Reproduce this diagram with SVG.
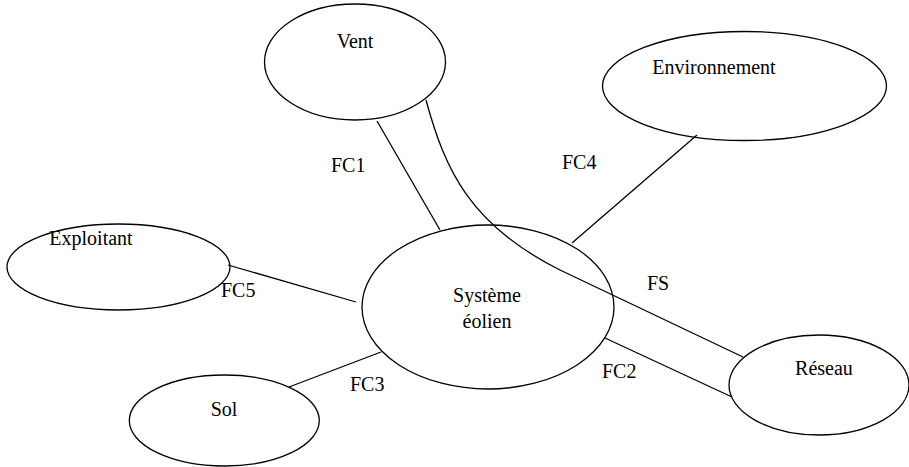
<svg xmlns="http://www.w3.org/2000/svg" width="909" height="467" viewBox="0 0 909 467" font-family="'Liberation Serif', 'Times New Roman', serif" font-size="20">
<style>
.n{fill:none;stroke:#000;stroke-width:1.3}
.c{fill:none;stroke:#000;stroke-width:1.3}
.t{font-family:'Liberation Serif','Times New Roman',serif;font-size:20px;fill:#000}
.m{text-anchor:middle}
</style>
<rect width="909" height="467" fill="#fff"/>
<g id="connectors">
<line class="c" x1="377" y1="121" x2="440" y2="230"/>
<path class="c" d="M426 100 C445 170 470 225 560 270 L743 357"/>
<line class="c" x1="572" y1="243" x2="697" y2="135"/>
<line class="c" x1="605" y1="338" x2="732" y2="397"/>
<line class="c" x1="228" y1="265" x2="356" y2="302"/>
<line class="c" x1="289" y1="387" x2="381" y2="352"/>
<text class="t" x="331" y="172">FC1</text>
<text class="t" x="562" y="169">FC4</text>
<text class="t" x="647" y="290">FS</text>
<text class="t" x="602" y="378">FC2</text>
<text class="t" x="221" y="297">FC5</text>
<text class="t" x="350" y="391">FC3</text>
</g>
<g id="vent">
<ellipse class="n" cx="355" cy="62" rx="90.5" ry="58"/>
<text class="t m" x="355" y="48">Vent</text>
</g>
<g id="environnement">
<ellipse class="n" cx="744.5" cy="86" rx="142" ry="54.5"/>
<text class="t m" x="714" y="74">Environnement</text>
</g>
<g id="systeme">
<ellipse class="n" cx="488" cy="307" rx="126" ry="82"/>
<text class="t m" x="487" y="302">Système</text>
<text class="t m" x="487" y="328">éolien</text>
</g>
<g id="exploitant">
<ellipse class="n" cx="118.5" cy="267" rx="111.5" ry="43"/>
<text class="t m" x="91" y="245">Exploitant</text>
</g>
<g id="sol">
<ellipse class="n" cx="224.3" cy="420.5" rx="95" ry="45.5"/>
<text class="t m" x="224" y="416">Sol</text>
</g>
<g id="reseau">
<ellipse class="n" cx="819" cy="385" rx="90" ry="50"/>
<text class="t m" x="824" y="375">Réseau</text>
</g>
</svg>
